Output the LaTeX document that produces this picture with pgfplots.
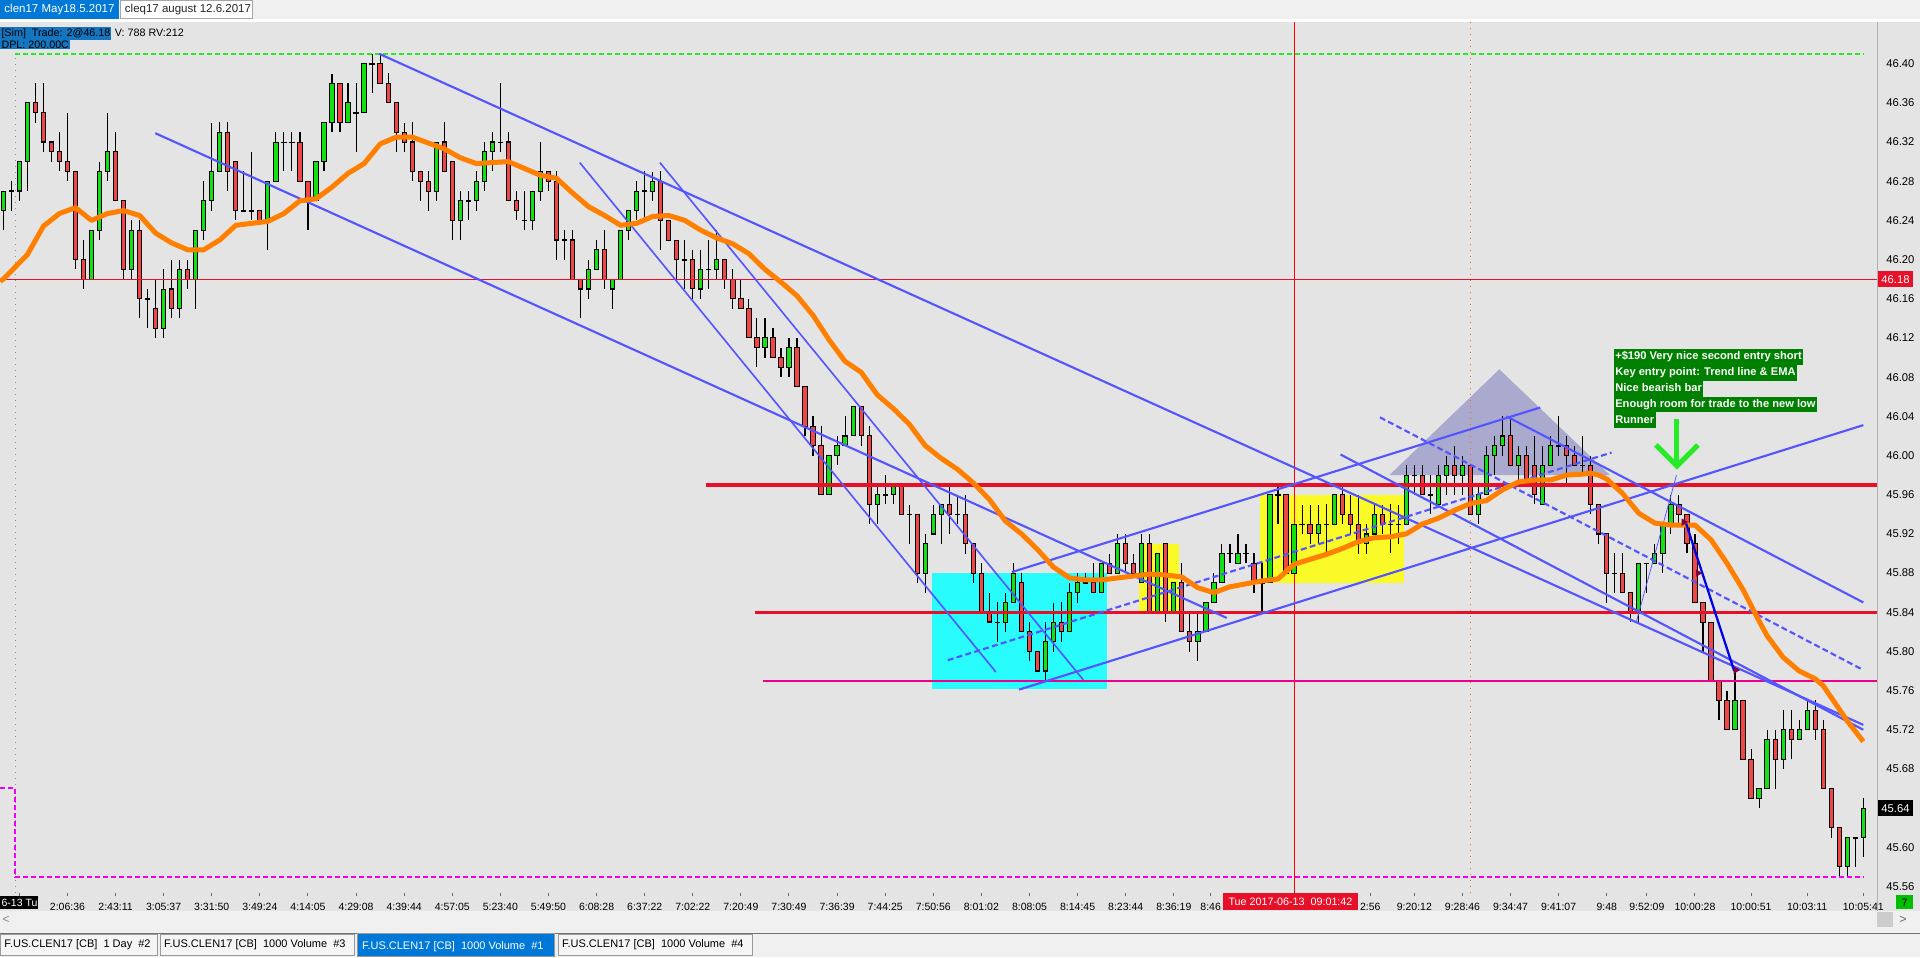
\documentclass[border=0pt]{standalone}
\usepackage{fontspec}
\setmainfont{Liberation Sans}
\usepackage{pgfplots}
\usepackage{pgfplotstable}
\pgfplotsset{compat=1.18}

\definecolor{chartbg}{RGB}{228,228,228}
\definecolor{panelbg}{RGB}{240,240,240}
\definecolor{tabblue}{RGB}{0,120,215}
\definecolor{infoblue}{RGB}{20,118,192}
\definecolor{candleup}{RGB}{20,225,20}
\definecolor{candledn}{RGB}{240,70,70}
\definecolor{trendblue}{RGB}{85,85,255}
\definecolor{levelred}{RGB}{232,16,40}
\definecolor{emaorange}{RGB}{255,128,0}
\definecolor{boxcyan}{RGB}{40,252,252}
\definecolor{boxyellow}{RGB}{250,250,40}
\definecolor{wedge}{RGB}{170,170,206}
\definecolor{notegreen}{RGB}{0,128,0}
\definecolor{arrowgreen}{RGB}{40,235,40}
\definecolor{tradeblue}{RGB}{0,0,235}
\definecolor{pinkline}{RGB}{240,0,240}
\definecolor{tradeplum}{RGB}{128,0,64}

\newcommand{\sz}[1]{\fontsize{#1}{#1}\selectfont}

% bars: index, open, high, low, close
\pgfplotstableread{
i O H L C
0 46.25 46.27 46.23 46.27
1 46.27 46.28 46.25 46.27
2 46.27 46.30 46.26 46.30
3 46.30 46.36 46.27 46.36
4 46.36 46.38 46.34 46.35
5 46.35 46.38 46.31 46.32
6 46.32 46.32 46.30 46.31
7 46.31 46.33 46.29 46.30
8 46.30 46.35 46.28 46.29
9 46.29 46.29 46.19 46.20
10 46.20 46.22 46.17 46.18
11 46.18 46.23 46.18 46.23
12 46.23 46.30 46.22 46.29
13 46.29 46.35 46.28 46.31
14 46.31 46.33 46.26 46.26
15 46.26 46.26 46.18 46.19
16 46.19 46.24 46.18 46.23
17 46.23 46.24 46.14 46.16
18 46.16 46.17 46.13 46.16
19 46.15 46.18 46.12 46.13
20 46.13 46.19 46.12 46.17
21 46.17 46.20 46.14 46.15
22 46.15 46.20 46.14 46.19
23 46.19 46.20 46.17 46.18
24 46.18 46.23 46.15 46.23
25 46.23 46.28 46.22 46.26
26 46.26 46.34 46.25 46.29
27 46.29 46.34 46.29 46.33
28 46.33 46.34 46.27 46.29
29 46.30 46.30 46.24 46.25
30 46.25 46.29 46.25 46.25
31 46.25 46.31 46.24 46.25
32 46.25 46.25 46.24 46.24
33 46.24 46.28 46.21 46.28
34 46.28 46.33 46.28 46.32
35 46.32 46.33 46.29 46.32
36 46.32 46.33 46.29 46.32
37 46.32 46.33 46.28 46.28
38 46.28 46.28 46.23 46.26
39 46.26 46.30 46.26 46.30
40 46.30 46.34 46.29 46.34
41 46.34 46.39 46.33 46.38
42 46.38 46.38 46.33 46.34
43 46.34 46.38 46.34 46.36
44 46.35 46.38 46.31 46.35
45 46.35 46.40 46.35 46.40
46 46.40 46.41 46.37 46.40
47 46.40 46.41 46.38 46.38
48 46.38 46.39 46.36 46.36
49 46.36 46.36 46.31 46.33
50 46.33 46.34 46.31 46.32
51 46.32 46.34 46.28 46.29
52 46.29 46.29 46.26 46.28
53 46.28 46.29 46.25 46.27
54 46.27 46.32 46.26 46.32
55 46.32 46.34 46.29 46.29
56 46.30 46.30 46.22 46.24
57 46.24 46.27 46.22 46.26
58 46.26 46.27 46.24 46.26
59 46.26 46.29 46.25 46.28
60 46.28 46.32 46.27 46.31
61 46.31 46.33 46.29 46.32
62 46.32 46.38 46.31 46.32
63 46.32 46.33 46.26 46.26
64 46.26 46.27 46.24 46.25
65 46.24 46.27 46.23 46.24
66 46.24 46.27 46.23 46.27
67 46.27 46.32 46.26 46.29
68 46.29 46.29 46.27 46.28
69 46.28 46.29 46.20 46.22
70 46.22 46.23 46.20 46.22
71 46.22 46.23 46.18 46.18
72 46.18 46.18 46.14 46.17
73 46.17 46.20 46.16 46.19
74 46.19 46.22 46.19 46.21
75 46.21 46.23 46.17 46.18
76 46.17 46.18 46.15 46.18
77 46.18 46.23 46.18 46.23
78 46.23 46.25 46.22 46.25
79 46.25 46.28 46.24 46.27
80 46.27 46.29 46.24 46.27
81 46.27 46.29 46.26 46.28
82 46.28 46.29 46.21 46.24
83 46.24 46.24 46.22 46.22
84 46.22 46.22 46.18 46.20
85 46.20 46.22 46.17 46.20
86 46.20 46.21 46.16 46.17
87 46.17 46.21 46.16 46.19
88 46.19 46.22 46.17 46.19
89 46.19 46.23 46.18 46.20
90 46.20 46.20 46.17 46.18
91 46.18 46.19 46.15 46.16
92 46.16 46.18 46.15 46.15
93 46.15 46.16 46.12 46.12
94 46.12 46.14 46.09 46.11
95 46.11 46.14 46.10 46.12
96 46.12 46.13 46.10 46.10
97 46.10 46.11 46.08 46.09
98 46.09 46.12 46.08 46.11
99 46.11 46.12 46.07 46.07
100 46.07 46.07 46.02 46.03
101 46.03 46.04 46.00 46.01
102 46.01 46.03 45.96 45.96
103 45.96 46.00 45.96 46.00
104 46.00 46.02 45.99 46.01
105 46.01 46.04 46.01 46.02
106 46.02 46.05 46.02 46.05
107 46.05 46.05 46.01 46.02
108 46.02 46.03 45.93 45.95
109 45.95 45.97 45.93 45.96
110 45.96 45.98 45.95 45.96
111 45.96 45.97 45.95 45.97
112 45.97 45.97 45.94 45.94
113 45.94 45.95 45.91 45.94
114 45.94 45.94 45.87 45.88
115 45.88 45.92 45.86 45.91
116 45.92 45.95 45.92 45.94
117 45.94 45.95 45.91 45.95
118 45.95 45.97 45.92 45.94
119 45.94 45.96 45.93 45.94
120 45.94 45.96 45.90 45.91
121 45.91 45.91 45.87 45.88
122 45.88 45.89 45.84 45.84
123 45.84 45.86 45.83 45.83
124 45.83 45.85 45.81 45.83
125 45.83 45.86 45.82 45.85
126 45.85 45.89 45.85 45.88
127 45.87 45.88 45.82 45.82
128 45.82 45.83 45.79 45.80
129 45.80 45.80 45.78 45.78
130 45.78 45.83 45.77 45.81
131 45.81 45.85 45.80 45.83
132 45.83 45.85 45.81 45.82
133 45.82 45.87 45.82 45.86
134 45.86 45.88 45.85 45.87
135 45.87 45.88 45.87 45.87
136 45.87 45.89 45.86 45.86
137 45.86 45.89 45.86 45.89
138 45.89 45.90 45.88 45.88
139 45.88 45.92 45.88 45.91
140 45.91 45.92 45.88 45.89
141 45.89 45.90 45.88 45.88
142 45.87 45.92 45.87 45.91
143 45.91 45.92 45.84 45.84
144 45.84 45.90 45.84 45.90
145 45.91 45.91 45.83 45.84
146 45.84 45.87 45.84 45.87
147 45.87 45.89 45.82 45.82
148 45.82 45.84 45.80 45.81
149 45.81 45.84 45.79 45.82
150 45.82 45.85 45.82 45.85
151 45.85 45.88 45.85 45.87
152 45.87 45.91 45.87 45.90
153 45.90 45.91 45.89 45.90
154 45.89 45.92 45.89 45.90
155 45.90 45.91 45.89 45.90
156 45.89 45.90 45.86 45.87
157 45.87 45.89 45.84 45.87
158 45.87 45.96 45.87 45.96
159 45.96 45.97 45.93 45.96
160 45.96 45.96 45.88 45.88
161 45.88 45.93 45.88 45.93
162 45.93 45.95 45.92 45.93
163 45.93 45.95 45.91 45.92
164 45.92 45.95 45.91 45.93
165 45.93 45.95 45.90 45.93
166 45.93 45.96 45.93 45.96
167 45.96 45.97 45.93 45.94
168 45.94 45.96 45.92 45.93
169 45.93 45.96 45.90 45.91
170 45.91 45.93 45.90 45.92
171 45.92 45.95 45.92 45.94
172 45.94 45.95 45.92 45.93
173 45.93 45.95 45.90 45.93
174 45.93 45.95 45.91 45.93
175 45.93 45.99 45.93 45.98
176 45.98 45.99 45.96 45.98
177 45.98 45.99 45.96 45.96
178 45.96 45.98 45.94 45.96
179 45.95 45.99 45.95 45.98
180 45.98 46.00 45.96 45.99
181 45.99 46.01 45.96 45.98
182 45.98 46.00 45.96 45.99
183 45.99 45.99 45.94 45.94
184 45.94 45.97 45.93 45.96
185 45.96 46.01 45.96 46.00
186 46.00 46.02 45.98 46.01
187 46.01 46.04 46.00 46.02
188 46.02 46.04 45.99 45.99
189 45.99 46.01 45.97 46.00
190 46.00 46.01 45.97 45.97
191 45.99 46.02 45.95 45.96
192 45.95 46.01 45.95 45.99
193 45.99 46.02 45.99 46.01
194 46.01 46.04 46.00 46.01
195 46.01 46.02 45.97 46.00
196 46.00 46.01 45.99 45.99
197 45.99 46.02 45.98 45.99
198 45.99 46.00 45.94 45.95
199 45.95 45.95 45.91 45.92
200 45.92 45.92 45.85 45.88
201 45.88 45.90 45.86 45.88
202 45.88 45.90 45.86 45.86
203 45.86 45.86 45.83 45.84
204 45.84 45.89 45.83 45.89
205 45.89 45.89 45.86 45.89
206 45.89 45.91 45.89 45.90
207 45.90 45.93 45.88 45.93
208 45.93 45.96 45.92 45.95
209 45.95 45.96 45.93 45.94
210 45.94 45.94 45.90 45.91
211 45.91 45.92 45.85 45.85
212 45.85 45.85 45.80 45.83
213 45.83 45.83 45.77 45.77
214 45.77 45.77 45.73 45.75
215 45.75 45.76 45.72 45.72
216 45.72 45.78 45.72 45.75
217 45.75 45.75 45.69 45.69
218 45.69 45.70 45.65 45.65
219 45.65 45.66 45.64 45.66
220 45.66 45.72 45.66 45.71
221 45.71 45.72 45.66 45.69
222 45.69 45.74 45.68 45.72
223 45.72 45.74 45.69 45.71
224 45.71 45.73 45.71 45.72
225 45.72 45.75 45.72 45.74
226 45.74 45.75 45.71 45.72
227 45.72 45.73 45.66 45.66
228 45.66 45.66 45.61 45.62
229 45.62 45.62 45.57 45.58
230 45.58 45.61 45.57 45.61
231 45.61 45.61 45.58 45.61
232 45.61 45.65 45.59 45.64
}\ohlc

% moving average
\pgfplotstableread{
i p
-0.4 46.178
0 46.180
3 46.205
5 46.234
7 46.247
9 46.253
11 46.240
13 46.247
15 46.250
17 46.245
19 46.227
21 46.217
23 46.210
25 46.210
27 46.220
29 46.235
31 46.237
33 46.239
35 46.247
37 46.260
39 46.262
41 46.274
43 46.288
45 46.298
47 46.318
49 46.325
51 46.325
53 46.319
55 46.313
57 46.304
59 46.298
61 46.299
63 46.300
65 46.293
67 46.286
69 46.283
71 46.268
73 46.254
75 46.245
77 46.235
79 46.237
81 46.244
83 46.245
85 46.240
87 46.230
89 46.222
91 46.216
93 46.206
95 46.190
97 46.177
99 46.163
101 46.143
103 46.118
105 46.096
107 46.085
109 46.062
111 46.048
113 46.032
115 46.010
117 45.997
119 45.986
121 45.972
123 45.955
125 45.933
127 45.920
129 45.904
131 45.886
133 45.875
135 45.873
137 45.873
139 45.875
141 45.877
143 45.879
145 45.878
147 45.876
149 45.865
151 45.860
153 45.866
155 45.869
157 45.872
159 45.874
161 45.889
163 45.894
165 45.899
167 45.905
169 45.912
171 45.916
173 45.917
175 45.920
177 45.930
179 45.936
181 45.944
183 45.951
185 45.954
187 45.965
189 45.973
191 45.975
193 45.975
195 45.980
197 45.981
198 45.982
199 45.980
200 45.976
202 45.961
204 45.941
206 45.931
208 45.929
211 45.929
213 45.914
215 45.890
217 45.863
219 45.831
220 45.816
222 45.794
224 45.780
226 45.772
227 45.765
228 45.753
230 45.729
232 45.708
}\ema

\begin{document}
\begin{tikzpicture}
\path[use as bounding box] (0,0) rectangle (768pt,-382.8pt);

% window frame, in screen pixels (y down)
\begin{scope}[x=0.4pt,y=-0.4pt]
\fill[chartbg] (0,22.5) rectangle (1920,911);
\fill[panelbg] (0,0) rectangle (1920,19);
\fill[white] (0,19) rectangle (1920,22.5);
\fill[panelbg] (0,911) rectangle (1920,957);
\fill[tabblue] (0,0) rectangle (119,19);
\node[anchor=west, text=white, font=\sz{4.6}, inner sep=0pt] at (4,9.5) {clen17 May18.5.2017};
\filldraw[fill=white, draw=black!35, line width=0.4pt] (121,0.5) rectangle (253,18.5);
\node[anchor=west, text=black!85, font=\sz{4.6}, inner sep=0pt] at (124.5,9.5) {cleq17 august 12.6.2017};
\end{scope}

\begin{axis}[
  at={(0pt,-9pt)}, anchor=north west,
  scale only axis, width=750.8pt, height=348.08pt,
  xmin=-0.412, xmax=233.71, ymin=45.5537, ymax=46.442,
  axis background/.style={fill=chartbg},
  axis line style={draw=none},
  xtick pos=bottom, tick align=outside, major tick length=1.5pt,
  xtick style={draw=black!60, line width=0.4pt},
  ytick style={draw=none},
  ytick pos=right, yticklabel pos=right,
  /pgf/number format/assume math mode=true,
  xtick={2,8,14,20,26,32,38,44,50,56,62,68,74,80,86,92,98,104,110,116,122,128,134,140,146,150.6,170.5,176,182,188,194,200,205,211,218,225,232},
  xticklabels={{},2:06:36,2:43:11,3:05:37,3:31:50,3:49:24,4:14:05,4:29:08,4:39:44,4:57:05,5:23:40,5:49:50,6:08:28,6:37:22,7:02:22,7:20:49,7:30:49,7:36:39,7:44:25,7:50:56,8:01:02,8:08:05,8:14:45,8:23:44,8:36:19,8:46,2:56,9:20:12,9:28:46,9:34:47,9:41:07,9:48,9:52:09,10:00:28,10:00:51,10:03:11,10:05:41},
  ytick={45.56,45.60,45.68,45.72,45.76,45.80,45.84,45.88,45.92,45.96,46.00,46.04,46.08,46.12,46.16,46.20,46.24,46.28,46.32,46.36,46.40},
  yticklabels={45.56,45.60,45.68,45.72,45.76,45.80,45.84,45.88,45.92,45.96,46.00,46.04,46.08,46.12,46.16,46.20,46.24,46.28,46.32,46.36,46.40},
  xticklabel style={font=\sz{4.2}, anchor=center, inner sep=0pt, yshift=-4.1pt},
  yticklabel style={font=\sz{4.5}, anchor=west, inner sep=0pt, xshift=2pt},
]

% shaded zones
\addplot[fill=boxcyan, draw=none, forget plot] coordinates {(115.8,45.7614) (137.7,45.7614) (137.7,45.8798) (115.8,45.8798)};
\addplot[fill=boxyellow, draw=none, forget plot] coordinates {(141.7,45.84) (146.6,45.84) (146.6,45.9097) (141.7,45.9097)};
\addplot[fill=boxyellow, draw=none, forget plot] coordinates {(156.7,45.87) (174.7,45.87) (174.7,45.96) (156.7,45.96)};
\addplot[fill=wedge, draw=none, forget plot] coordinates {(172.9,45.98) (186.6,46.088) (200.4,45.98)};

% session markers
\addplot[red, line width=0.4pt, forget plot] coordinates {(161,45.5537) (161,46.442)};
\addplot[orange!80!red, line width=0.4pt, dotted, forget plot] coordinates {(183,45.5537) (183,46.442)};
\addplot[black!45, line width=0.4pt, dotted, forget plot] coordinates {(1.46,45.5537) (1.46,46.41)};

% candles: wick, body outline, body fill
\addplot[draw=none, mark=none, forget plot,
  error bars/.cd, y dir=both, y explicit, error mark=none,
  error bar style={draw=black, line width=0.45pt}]
  table[x=i, y expr={(\thisrow{H}+\thisrow{L})/2}, y error expr={(\thisrow{H}-\thisrow{L})/2}] {\ohlc};
\addplot[draw=none, mark=none, forget plot,
  error bars/.cd, y dir=both, y explicit, error mark=none,
  error bar style={draw=black, line width=2.1pt}]
  table[x=i, y expr={(\thisrow{O}+\thisrow{C})/2}, y error expr={abs(\thisrow{C}-\thisrow{O})/2+0.00055}] {\ohlc};
\addplot[draw=none, mark=none, forget plot,
  restrict expr to domain={\thisrow{C}-\thisrow{O}}{0.005:1},
  error bars/.cd, y dir=both, y explicit, error mark=none,
  error bar style={draw=candleup, line width=1.3pt}]
  table[x=i, y expr={(\thisrow{O}+\thisrow{C})/2}, y error expr={(\thisrow{C}-\thisrow{O})/2-0.00055}] {\ohlc};
\addplot[draw=none, mark=none, forget plot,
  restrict expr to domain={\thisrow{O}-\thisrow{C}}{0.005:1},
  error bars/.cd, y dir=both, y explicit, error mark=none,
  error bar style={draw=candledn, line width=1.3pt}]
  table[x=i, y expr={(\thisrow{O}+\thisrow{C})/2}, y error expr={(\thisrow{O}-\thisrow{C})/2-0.00055}] {\ohlc};

% horizontal levels
\addplot[levelred, line width=0.45pt, forget plot] coordinates {(-0.412,46.18) (233.71,46.18)};
\addplot[levelred, line width=1.35pt, forget plot] coordinates {(87.7,45.97) (233.71,45.97)};
\addplot[levelred, line width=1.35pt, forget plot] coordinates {(93.7,45.84) (233.71,45.84)};
\addplot[magenta, line width=0.8pt, forget plot] coordinates {(94.8,45.77) (233.71,45.77)};
\addplot[arrowgreen, line width=0.8pt, dash pattern=on 2pt off 1.2pt, forget plot] coordinates {(1.46,46.41) (232,46.41)};
\addplot[pinkline, line width=0.8pt, dash pattern=on 2pt off 1.2pt, forget plot] coordinates {(-0.412,45.661) (1.46,45.661) (1.46,45.57) (232,45.57)};

% trend lines
\addplot[trendblue, line width=0.85pt, forget plot] coordinates {(46.9,46.41) (232,45.725)};
\addplot[trendblue, line width=0.85pt, forget plot] coordinates {(18.96,46.329) (152.6,45.8342)};
\addplot[trendblue, line width=0.65pt, forget plot] coordinates {(71.9,46.299) (123.8,45.779)};
\addplot[trendblue, line width=0.65pt, forget plot] coordinates {(81.9,46.299) (134.7,45.771)};
\addplot[trendblue, line width=0.85pt, forget plot] coordinates {(126.7,45.761) (232,46.031)};
\addplot[trendblue, line width=0.85pt, forget plot] coordinates {(125.8,45.881) (191.7,46.049)};
\addplot[trendblue, line width=0.85pt, dash pattern=on 2.4pt off 1.3pt, forget plot] coordinates {(117.8,45.791) (200.6,46.003)};
\addplot[trendblue, line width=0.85pt, forget plot] coordinates {(166.8,46.001) (232,45.720)};
\addplot[trendblue, line width=0.85pt, dash pattern=on 2.4pt off 1.3pt, forget plot] coordinates {(171.7,46.039) (232,45.781)};
\addplot[trendblue, line width=0.85pt, forget plot] coordinates {(187.5,46.040) (232,45.850)};
\addplot[trendblue, line width=0.3pt, forget plot] coordinates {(203.7,45.8306) (208.7,45.98)};

% moving average
\addplot[emaorange, line width=2pt, line join=round, forget plot] table[x=i, y=p] {\ema};

% trade
\addplot[tradeblue, line width=0.9pt, forget plot] coordinates {(209.9,45.9306) (215.9,45.78)};
\addplot[tradeplum, only marks, mark=triangle*, mark size=1.3pt, mark options={rotate=-90}, forget plot] coordinates {(209.6,45.932) (211.4,45.880) (216.1,45.781)};
\end{axis}

% overlays, in screen pixels
\begin{scope}[x=0.4pt,y=-0.4pt]
\draw[black!30, line width=0.4pt] (1877.5,22.5) -- (1877.5,911);
% info lines
\node[anchor=north west, fill=infoblue, text=black, font=\sz{4.3}, inner xsep=0.4pt, inner ysep=0.5pt] (sim) at (0,26.5) {[Sim]\ \ Trade: 2@46.18};
\node[anchor=west, text=black, font=\sz{4.3}, inner xsep=1pt, inner ysep=0.5pt] at (sim.east) {V: 788 RV:212};
\node[anchor=north west, fill=infoblue, text=black, font=\sz{4.3}, inner xsep=0.4pt, inner ysep=0.5pt] at (0,38.8) {DPL: 200.00C};
% note
\tikzset{note/.style={anchor=north west, fill=notegreen, text=white, font=\bfseries\sz{4.45}, inner xsep=0.6pt, inner ysep=0pt, text height=3.4pt, text depth=1.0pt, minimum height=6.36pt}}
\node[note] at (1613.3,348.4) {+\$190 Very nice second entry short};
\node[note] at (1613.3,364.3) {Key entry point: Trend line \& EMA};
\node[note] at (1613.3,380.2) {Nice bearish bar};
\node[note] at (1613.3,396.1) {Enough room for trade to the new low};
\node[note] at (1613.3,412.0) {Runner};
\draw[arrowgreen, line width=2pt] (1677,419) -- (1677,464);
\draw[arrowgreen, line width=2pt, line join=miter] (1656,445) -- (1677,466) -- (1698,445);
% price flags
\fill[levelred] (1878,271.5) rectangle (1913,287);
\node[text=white, font=\sz{4.5}, inner sep=0pt] at (1895.5,279.3) {46.18};
\fill[black] (1878,800.5) rectangle (1913,816);
\node[text=white, font=\sz{4.5}, inner sep=0pt] at (1895.5,808.3) {45.64};
\fill[green!75!black] (1896,895.5) rectangle (1913,909.5);
\node[text=black, font=\sz{4.3}, inner sep=0pt] at (1904.5,902.5) {7};
% time flags
\fill[black] (0,896.5) rectangle (38.5,909.5);
\node[text=white, font=\sz{4.2}, inner sep=0pt] at (19.5,903) {6-13 Tu};
\fill[levelred] (1223,893.5) rectangle (1358,910.5);
\node[text=white, font=\sz{4.3}, inner sep=0pt] at (1290.5,902) {Tue 2017-06-13\ \ 09:01:42};
% scroll bar
\node[text=black!45, font=\sz{5}, inner sep=0pt] at (6,919.5) {\textless};
\fill[black!20] (1877,912) rectangle (1893,927);
\node[text=black!60, font=\sz{5}, inner sep=0pt] at (1903,919.5) {\textgreater};
\draw[black!55, line width=0.5pt] (0,933.3) -- (1920,933.3);
% sheet tabs
\filldraw[fill=white!96!black, draw=black!40, line width=0.4pt] (1,935) rectangle (158,955.5);
\node[anchor=west, font=\sz{4.4}, inner sep=0pt] at (4,945) {F.US.CLEN17 [CB]\ \ 1 Day\ \ \#2};
\filldraw[fill=white!96!black, draw=black!40, line width=0.4pt] (160.5,935) rectangle (355,955.5);
\node[anchor=west, font=\sz{4.4}, inner sep=0pt] at (163.5,945) {F.US.CLEN17 [CB]\ \ 1000 Volume\ \ \#3};
\filldraw[fill=tabblue, draw=black!40, line width=0.4pt] (358,934) rectangle (555,957);
\node[anchor=west, text=white, font=\sz{4.4}, inner sep=0pt] at (361.5,946.5) {F.US.CLEN17 [CB]\ \ 1000 Volume\ \ \#1};
\filldraw[fill=white!96!black, draw=black!40, line width=0.4pt] (558.5,935) rectangle (753,955.5);
\node[anchor=west, font=\sz{4.4}, inner sep=0pt] at (561.5,945) {F.US.CLEN17 [CB]\ \ 1000 Volume\ \ \#4};
\end{scope}
\end{tikzpicture}
\end{document}
